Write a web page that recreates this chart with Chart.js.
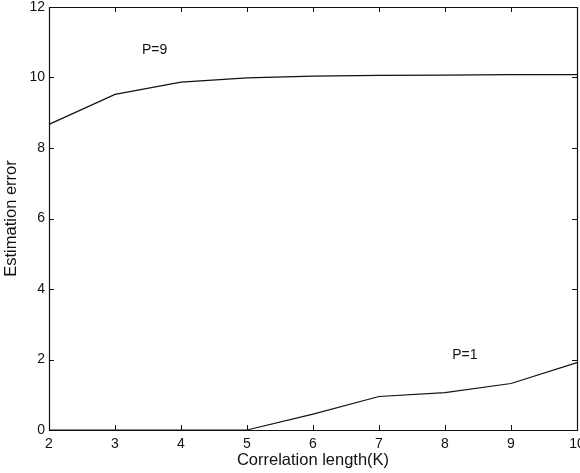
<!DOCTYPE html>
<html>
<head>
<meta charset="utf-8">
<script src="https://cdn.jsdelivr.net/npm/chart.js@4.4.1/dist/chart.umd.min.js"></script>
<style>
  html, body { margin: 0; padding: 0; background: #ffffff; }
  #wrap { width: 580px; height: 473px; }
</style>
</head>
<body>
<div id="wrap"><canvas id="c" width="580" height="473"></canvas></div>
<script>
// ---- data ----
const xValues = [2, 3, 4, 5, 6, 7, 8, 9, 10];
const seriesP9 = [8.67, 9.52, 9.87, 9.99, 10.04, 10.06, 10.07, 10.08, 10.08];
const seriesP1 = [0, 0, 0, 0, 0.45, 0.95, 1.06, 1.32, 1.91];
const seriesNames = ['P=9', 'P=1'];
const annotationText = ['P=9', 'P=1'];
const annotationX = [3.6, 8.3];
const annotationY = [10.78, 2.13];
const xTitle = 'Correlation length(K)';
const yTitle = 'Estimation error';

const FONT = "'Liberation Sans', Arial, Helvetica, sans-serif";
const INK = '#111111';

const toPoints = (ys) => xValues.map((x, i) => ({ x: x, y: ys[i] }));

const framePlugin = {
  id: 'frame',
  afterDatasetsDraw(chart) {
    const ctx = chart.ctx;
    const a = chart.chartArea;
    const xs = chart.scales.x, ys = chart.scales.y;
    ctx.save();
    ctx.strokeStyle = INK;
    ctx.lineWidth = 1.2;
    ctx.beginPath();
    ctx.rect(Math.round(a.left) + 0.5, Math.round(a.top) + 0.5,
             Math.round(a.right - a.left), Math.round(a.bottom - a.top));
    ctx.stroke();
    const tl = 5;
    ctx.lineWidth = 1;
    ctx.beginPath();
    xs.ticks.forEach(t => {
      const px = Math.round(xs.getPixelForValue(t.value)) + 0.5;
      ctx.moveTo(px, a.bottom); ctx.lineTo(px, a.bottom - tl);
      ctx.moveTo(px, a.top); ctx.lineTo(px, a.top + tl);
    });
    ys.ticks.forEach(t => {
      const py = Math.round(ys.getPixelForValue(t.value)) + 0.5;
      ctx.moveTo(a.left, py); ctx.lineTo(a.left + tl, py);
      ctx.moveTo(a.right, py); ctx.lineTo(a.right - tl, py);
    });
    ctx.stroke();
    // series labels
    ctx.fillStyle = INK;
    ctx.font = "14px " + FONT;
    ctx.textAlign = 'center';
    ctx.textBaseline = 'middle';
    annotationText.forEach((s, i) => {
      ctx.fillText(s, xs.getPixelForValue(annotationX[i]), ys.getPixelForValue(annotationY[i]));
    });
    ctx.restore();
  }
};

new Chart(document.getElementById('c'), {
  type: 'line',
  data: {
    datasets: [
      { label: seriesNames[0], data: toPoints(seriesP9), borderColor: INK, borderWidth: 1.2,
        pointRadius: 0, fill: false, tension: 0 },
      { label: seriesNames[1], data: toPoints(seriesP1), borderColor: INK, borderWidth: 1.2,
        pointRadius: 0, fill: false, tension: 0 }
    ]
  },
  options: {
    responsive: false,
    animation: false,
    clip: false,
    layout: { padding: { top: 7, right: 3, left: 0, bottom: 0 } },
    plugins: { legend: { display: false }, tooltip: { enabled: false } },
    scales: {
      x: {
        type: 'linear', min: 2, max: 10,
        grid: { drawOnChartArea: false, drawTicks: false },
        border: { display: false },
        ticks: { stepSize: 1, padding: 6, color: INK, font: { family: FONT, size: 14 }, maxRotation: 0 },
        title: { display: true, text: xTitle, color: INK, font: { family: FONT, size: 16.5 },
                 padding: { top: 0, bottom: 3 } },
        afterFit(s) { s.height = 43; s.paddingLeft = 0; s.paddingRight = 0; }
      },
      y: {
        type: 'linear', min: 0, max: 12,
        grid: { drawOnChartArea: false, drawTicks: false },
        border: { display: false },
        ticks: { stepSize: 2, padding: 4, color: INK, font: { family: FONT, size: 14 } },
        title: { display: true, text: yTitle, color: INK, font: { family: FONT, size: 16.5 },
                 padding: { top: 2, bottom: 0 } },
        afterFit(s) { s.width = 49; s.paddingTop = 0; s.paddingBottom = 0; }
      }
    }
  },
  plugins: [framePlugin]
});
</script>
</body>
</html>
